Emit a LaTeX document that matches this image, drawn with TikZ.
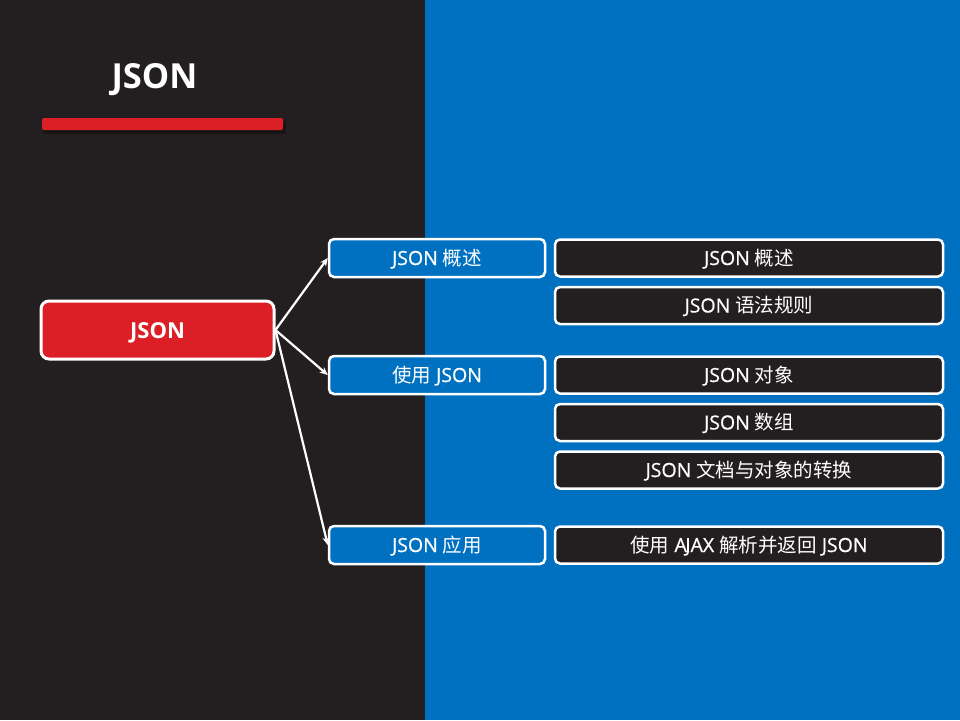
\documentclass[tikz,border=0pt]{standalone}
\usepackage{fontspec}
\setmainfont{Open Sans}
\newfontfamily\semib{Open Sans}[FakeBold=0.7]
\newfontfamily\zh{Noto Sans CJK SC}
\usetikzlibrary{arrows.meta}
\definecolor{darkbg}{HTML}{231F20}
\definecolor{bluebg}{HTML}{0070C0}
\definecolor{redc}{HTML}{DC1F26}
\begin{document}
\begin{tikzpicture}[x=1pt,y=-1pt,
  boxtxt/.style={text=white,font=\fontsize{19.5}{22}\selectfont\semib,inner sep=0pt,text depth=0pt,text height=14pt},
  lvltwo/.style={boxtxt,draw=white,line width=2.5pt,fill=bluebg,rounded corners=5pt,minimum width=216pt,minimum height=38pt},
  lvlthree/.style={boxtxt,draw=white,line width=2.5pt,fill=darkbg,rounded corners=5pt,minimum width=388pt,minimum height=37pt},
  rootbox/.style={draw=white,line width=3pt,fill=redc,rounded corners=8pt,minimum width=233pt,minimum height=58pt,text=white,font=\fontsize{22}{24}\selectfont\bfseries,text height=16pt,text depth=0pt},
  conn/.style={draw=white,line width=2.2pt,-{Stealth[length=8pt,width=7pt]}}
]
\useasboundingbox (0,0) rectangle (960,720);
\fill[darkbg] (0,0) rectangle (425,720);
\fill[bluebg] (425,0) rectangle (960,720);
% title
\node[text=white,font=\fontsize{34.5}{36}\selectfont\bfseries,inner sep=0pt] (title) at (154.5,80) {JSON};
\fill[black,opacity=0.35] (43,121) rectangle (286,134);
\fill[redc,rounded corners=2pt] (42,118) rectangle (283,130);
% root
\node[rootbox] (root) at (157.5,330) {JSON};
% level two
\node[lvltwo] (a) at (437,258) {JSON {\zh 概述}};
\node[lvltwo] (b) at (437,375) {{\zh 使用} JSON};
\node[lvltwo] (c) at (437,545) {JSON {\zh 应用}};
% level three
\node[lvlthree] (a1) at (749,258) {JSON {\zh 概述}};
\node[lvlthree] (a2) at (749,305.5) {JSON {\zh 语法规则}};
\node[lvlthree] (b1) at (749,375) {JSON {\zh 对象}};
\node[lvlthree] (b2) at (749,422.5) {JSON {\zh 数组}};
\node[lvlthree] (b3) at (749,470) {JSON {\zh 文档与对象的转换}};
\node[lvlthree] (c1) at (749,545) {{\zh 使用} A\kern-1.5pt JAX {\zh 解析并返回} JSON};
% connectors
\draw[conn] (root.east) -- (a.west);
\draw[conn] (root.east) -- (b.west);
\draw[conn] (root.east) -- (c.west);
\end{tikzpicture}
\end{document}
